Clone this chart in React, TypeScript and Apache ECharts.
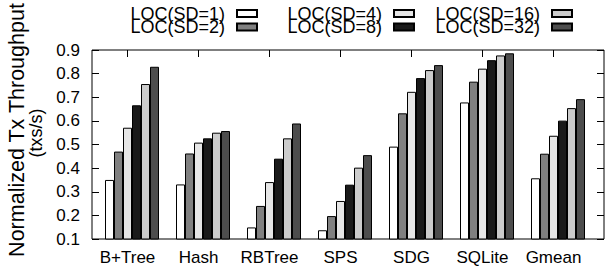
import React, { useEffect, useRef } from "react";
import * as echarts from "echarts";

const categories = ["B+Tree", "Hash", "RBTree", "SPS", "SDG", "SQLite", "Gmean"];
const seriesNames = ["LOC(SD=1)", "LOC(SD=2)", "LOC(SD=4)", "LOC(SD=8)", "LOC(SD=16)", "LOC(SD=32)"];
const sd1 = [0.35, 0.331, 0.149, 0.137, 0.491, 0.678, 0.357];
const sd2 = [0.47, 0.462, 0.24, 0.197, 0.632, 0.766, 0.461];
const sd4 = [0.571, 0.508, 0.341, 0.261, 0.723, 0.821, 0.537];
const sd8 = [0.666, 0.526, 0.44, 0.33, 0.781, 0.857, 0.601];
const sd16 = [0.756, 0.55, 0.526, 0.402, 0.815, 0.877, 0.654];
const sd32 = [0.829, 0.557, 0.589, 0.455, 0.836, 0.886, 0.692];
const seriesValues = [sd1, sd2, sd4, sd8, sd16, sd32];
const seriesColors = ["#ffffff", "#808080", "#e6e6e6", "#1a1a1a", "#cccccc", "#4d4d4d"];
const yMin = 0.1;
const yMax = 0.9;
const yStep = 0.1;

const FONT = "'Liberation Sans', Arial, Helvetica, sans-serif";

export default function App() {
  const ref = useRef<HTMLDivElement>(null);
  useEffect(() => {
    if (!ref.current) return;
    const chart = echarts.init(ref.current, undefined, { renderer: "svg" });
    const gridPos = { top: 50, bottom: 33 };
    const legendCommon = {
      orient: "vertical" as const,
      align: "right" as const,
      padding: 0,
      itemGap: 0,
      itemWidth: 20,
      itemHeight: 7,
      icon: "rect",
      selectedMode: false,
      textStyle: {
        fontFamily: FONT,
        fontSize: 18,
        lineHeight: 13,
        color: "#000",
        padding: [0, 7, 0, 0],
      },
    };
    const legendRights = [347, 347, 190, 190, 32, 32];
    const legendTops = [4.5, 18, 4.5, 18, 4.5, 18];
    const option: any = {
      animation: false,
      backgroundColor: "#fff",
      grid: [
        { left: 92, right: 1, ...gridPos, show: true, borderColor: "#000", borderWidth: 1, backgroundColor: "transparent" },
        { left: 92, width: 497, ...gridPos },
        { left: 96.5, width: 497, ...gridPos },
      ],
      legend: seriesNames.map((n, i) => ({
        ...legendCommon,
        right: legendRights[i],
        top: legendTops[i],
        data: [n],
      })),
      xAxis: [
        { gridIndex: 0, type: "category", data: [""], show: false },
        {
          gridIndex: 1,
          type: "category",
          data: categories,
          position: "bottom",
          axisLine: { show: false },
          axisTick: { show: false },
          axisLabel: { interval: 0, margin: 10, fontSize: 17, color: "#000", fontFamily: FONT },
        },
        {
          gridIndex: 1,
          type: "category",
          data: categories,
          position: "top",
          axisLine: { show: false },
          axisTick: { show: true, interval: 0, inside: true, length: 7, alignWithLabel: true, lineStyle: { color: "#000", width: 1 } },
          axisLabel: { show: false, interval: 0 },
        },
        { gridIndex: 2, type: "category", data: categories, show: false },
      ],
      yAxis: [
        {
          gridIndex: 0,
          type: "value",
          position: "left",
          min: yMin,
          max: yMax,
          interval: yStep,
          axisLine: { show: false },
          axisTick: { show: true, inside: true, length: 7, lineStyle: { color: "#000", width: 1 } },
          axisLabel: {
            margin: 12,
            fontSize: 17,
            color: "#000",
            fontFamily: FONT,
            formatter: (v: number) => v.toFixed(1),
          },
          splitLine: { show: false },
        },
        {
          gridIndex: 0,
          type: "value",
          position: "right",
          min: yMin,
          max: yMax,
          interval: yStep,
          axisLine: { show: false },
          axisTick: { show: true, inside: true, length: 7, lineStyle: { color: "#000", width: 1 } },
          axisLabel: { show: false },
          splitLine: { show: false },
        },
        { gridIndex: 1, type: "value", min: yMin, max: yMax, show: false },
        { gridIndex: 2, type: "value", min: yMin, max: yMax, show: false },
      ],
      series: seriesValues.map((vals, i) => ({
        name: seriesNames[i],
        type: "bar",
        xAxisIndex: 3,
        yAxisIndex: 3,
        data: vals,
        barWidth: 9,
        barGap: "0%",
        itemStyle: { color: seriesColors[i], borderColor: "#000", borderWidth: 1 },
        emphasis: { disabled: true },
      })),
      graphic: [
        {
          type: "text",
          x: 17,
          y: 130,
          rotation: Math.PI / 2,
          style: {
            text: "Normalized Tx Throughput",
            font: `21.5px ${FONT}`,
            fill: "#000",
            textAlign: "center",
            textVerticalAlign: "middle",
          },
        },
        {
          type: "text",
          x: 36,
          y: 133,
          rotation: Math.PI / 2,
          style: {
            text: "(txs/s)",
            font: `18px ${FONT}`,
            fill: "#000",
            textAlign: "center",
            textVerticalAlign: "middle",
          },
        },
      ],
    };
    chart.setOption(option);
    return () => chart.dispose();
  }, []);
  return (
    <div
      ref={ref}
      style={{ position: "fixed", left: 0, top: 0, width: 605, height: 272 }}
    />
  );
}
